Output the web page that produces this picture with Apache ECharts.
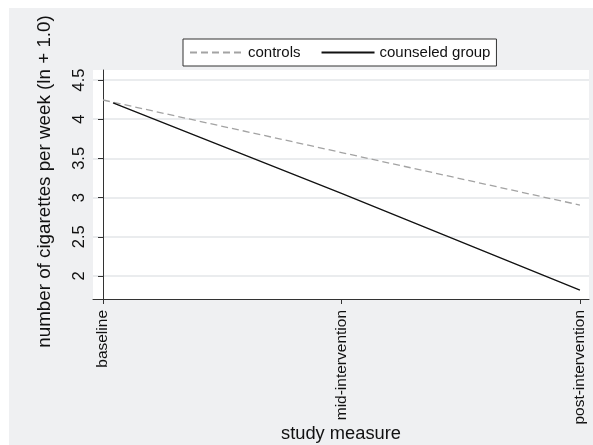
<!DOCTYPE html>
<html>
<head>
<meta charset="utf-8">
<script src="https://cdn.jsdelivr.net/npm/echarts@6/dist/echarts.min.js"></script>
<style>
html,body{margin:0;padding:0;background:#fff;}
#chart{width:593px;height:445px;}
</style>
</head>
<body>
<div id="chart"></div>
<script>
// Data
const categories = ['baseline', 'mid-intervention', 'post-intervention'];
const categoryPositions = [0, 1, 2];
const controlsX = [0, 1, 2];
const controlsY = [4.245, 3.575, 2.905];
const counseledX = [0.042, 1, 2];
const counseledY = [4.207, 3.055, 1.82];
const yTicks = [2, 2.5, 3, 3.5, 4, 4.5];

const FONT = 'Liberation Sans, Arial, Helvetica, sans-serif';
const chart = echarts.init(document.getElementById('chart'), null, {renderer: 'canvas'});

const pairs = (xs, ys) => xs.map((x, i) => [x, ys[i]]);

chart.setOption({
  backgroundColor: 'transparent',
  animation: false,
  textStyle: {fontFamily: FONT},
  graphic: [{
    type: 'rect', z: -100, silent: true,
    shape: {x: 9, y: 8, width: 584, height: 437},
    style: {fill: '#eff0f2'}
  }],
  grid: {
    left: 93, right: 4, top: 70, bottom: 146,
    show: true, backgroundColor: '#ffffff', borderWidth: 0,
    containLabel: false, outerBoundsMode: 'none'
  },
  legend: {
    left: 183, top: 39,
    padding: [6, 6],
    itemWidth: 53, itemHeight: 14, itemGap: 20,
    borderColor: '#333333', borderWidth: 1, backgroundColor: '#ffffff',
    borderRadius: 0,
    itemStyle: {opacity: 0},
    textStyle: {fontFamily: FONT, fontSize: 15, color: '#111'},
    data: ['controls', 'counseled group']
  },
  xAxis: {
    type: 'value',
    min: -0.042, max: 2.038,
    name: 'study measure',
    nameLocation: 'middle',
    nameGap: 126,
    nameMoveOverlap: false,
    nameTextStyle: {fontFamily: FONT, fontSize: 18.3, color: '#111'},
    axisLine: {show: true, lineStyle: {color: '#333', width: 1}},
    axisTick: {show: true, length: 5, inside: false, customValues: categoryPositions, lineStyle: {color: '#333', width: 1}},
    axisLabel: {
      customValues: categoryPositions,
      rotate: 90, margin: 11,
      fontFamily: FONT, fontSize: 15.5, color: '#111',
      formatter: v => categories[Math.round(v)]
    },
    splitLine: {show: false}
  },
  yAxis: {
    type: 'value',
    min: 1.7066, max: 4.6276,
    name: 'number of cigarettes per week (ln + 1.0)',
    nameLocation: 'middle',
    nameGap: 39,
    nameMoveOverlap: false,
    nameTextStyle: {fontFamily: FONT, fontSize: 18.8, color: '#111', padding: [0, 0, 0, 6]},
    axisLine: {show: true, lineStyle: {color: '#333', width: 1}},
    axisTick: {show: true, length: 5, inside: false, customValues: yTicks, lineStyle: {color: '#333', width: 1}},
    axisLabel: {
      customValues: yTicks,
      rotate: 90, margin: 5,
      fontFamily: FONT, fontSize: 16.5, color: '#111',
      formatter: v => String(v)
    },
    splitLine: {show: true, lineStyle: {color: '#e3e6e9', width: 1.5}}
  },
  series: [
    {
      name: 'controls', type: 'line',
      data: pairs(controlsX, controlsY),
      symbol: 'none', showSymbol: false,
      lineStyle: {color: '#a3a3a3', width: 1.3, type: [7, 4]},
      itemStyle: {color: '#a3a3a3'},
      z: 2
    },
    {
      name: 'counseled group', type: 'line',
      data: pairs(counseledX, counseledY),
      symbol: 'none', showSymbol: false,
      lineStyle: {color: '#111111', width: 1.3, type: 'solid'},
      itemStyle: {color: '#111111'},
      z: 3
    }
  ]
});
</script>
</body>
</html>
